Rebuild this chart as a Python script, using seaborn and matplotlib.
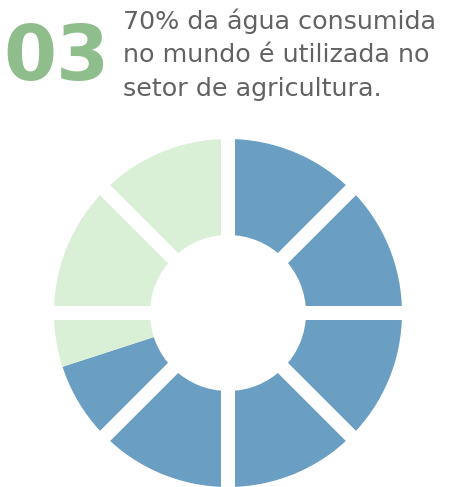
import numpy as np
import pandas as pd
import matplotlib
matplotlib.use("Agg")
import matplotlib.pyplot as plt
import seaborn as sns

# data
labels = ["Agricultura", "Outros usos"]
shares = [70, 30]
n_segments = 8
numero = "03"
linhas = ["70% da água consumida", "no mundo é utilizada no", "setor de agricultura."]

colors = ["#6a9fc3", "#d9f0d6"]

sns.set_theme(style="white")
plt.rcParams['font.family'] = ['DejaVu Sans']

W, H = 456, 487
fig = plt.figure(figsize=(W / 100, H / 100), dpi=100)
fig.patch.set_facecolor("white")

# donut, axes measured in pixels
cx, cy, half = 228, 313, 200
ax = fig.add_axes([(cx - half) / W, (H - cy - half) / H, 2 * half / W, 2 * half / H])
gap = 14
r_out, r_in = 174 + gap / 2, 78 - gap / 2

df = pd.DataFrame({"label": labels, "share": shares})
ax.pie(df["share"], colors=colors, startangle=90, counterclock=False,
       radius=r_out, wedgeprops=dict(width=r_out - r_in, linewidth=0))
# white separators for the 8 segments
ax.pie(np.ones(n_segments), colors=["none"] * n_segments, startangle=90, counterclock=False,
       radius=r_out, wedgeprops=dict(width=r_out - r_in, edgecolor="white",
                                     linewidth=gap * 72 / 100))
ax.set_xlim(-half, half)
ax.set_ylim(-half, half)
ax.set_aspect("equal")
ax.axis("off")

fig.text(3 / W, 1 - 80 / H, numero, fontsize=55, fontweight="heavy", color="#8fbe8c",
         va="baseline", ha="left")
for i, linha in enumerate(linhas):
    fig.text(123 / W, 1 - (29 + 33.5 * i) / H, linha, fontsize=18.3, color="#626262",
             va="baseline", ha="left")

fig.savefig("out.png", dpi=100, facecolor="white")
